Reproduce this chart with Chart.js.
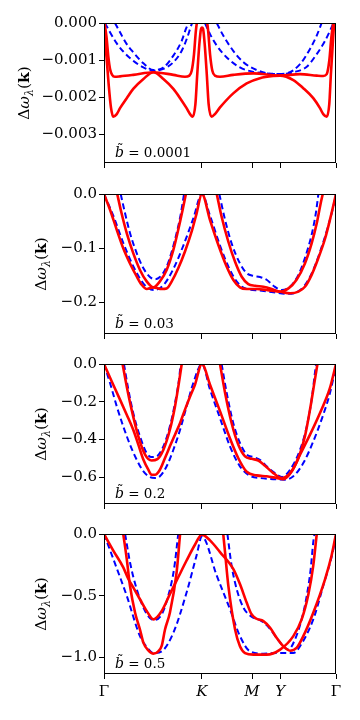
<!DOCTYPE html>
<html>
<head>
<meta charset="utf-8">
<script src="https://cdn.jsdelivr.net/npm/chart.js@4.4.0/dist/chart.umd.min.js"></script>
<style>
  body { margin: 0; background: #fff; width: 360px; height: 720px; position: relative; overflow: hidden; }
  canvas { position: absolute; left: 0; }
</style>
</head>
<body>
<canvas id="c1" width="360" height="180" style="top:0"></canvas>
<canvas id="c2" width="360" height="170" style="top:180px"></canvas>
<canvas id="c3" width="360" height="170" style="top:350px"></canvas>
<canvas id="c4" width="360" height="200" style="top:520px"></canvas>
<script>
// path Γ -> K -> M -> Y -> Γ, k as fraction of the path length
const kTicks = [0, 0.422, 0.638, 0.759, 1];
const kLabels = ['Γ', 'K', 'M', 'Y', 'Γ'];
const bLabels = ['0.0001', '0.03', '0.2', '0.5'];

const yTicks1 = [0, -0.001, -0.002, -0.003];
const yTicks2 = [0, -0.1, -0.2];
const yTicks3 = [0, -0.2, -0.4, -0.6];
const yTicks4 = [0, -0.5, -1.0];
const yMins = [-0.00378, -0.258, -0.743, -1.135];

// panel 1, b = 0.0001  ([k, Δω])
const p1Red1 = [[0, -0.0002], [0.011, -0.00093], [0.020, -0.00165], [0.030, -0.00228], [0.040, -0.00253],
  [0.055, -0.00246], [0.069, -0.00230], [0.098, -0.00203], [0.126, -0.00178], [0.170, -0.00151],
  [0.213, -0.00133], [0.256, -0.00151], [0.299, -0.00178], [0.328, -0.00203], [0.356, -0.00230],
  [0.371, -0.00246], [0.382, -0.00253], [0.394, -0.00219], [0.402, -0.00138], [0.411, -0.00057],
  [0.418, -0.00016], [0.422, -0.00012], [0.427, -0.00016], [0.434, -0.00057], [0.443, -0.00138],
  [0.451, -0.00219], [0.464, -0.00253], [0.478, -0.00246], [0.500, -0.00228], [0.557, -0.00190],
  [0.615, -0.00163], [0.672, -0.00149], [0.730, -0.00143], [0.759, -0.00142], [0.816, -0.00154],
  [0.859, -0.00176], [0.902, -0.00203], [0.931, -0.00230], [0.945, -0.00246], [0.960, -0.00253],
  [0.971, -0.00219], [0.978, -0.00138], [0.986, -0.00057], [0.991, -0.00012], [1, 0]];
const p1Red2 = [[0, 0.0001], [0.011, -0.00039], [0.019, -0.00093], [0.026, -0.00124], [0.035, -0.00140],
  [0.047, -0.00145], [0.069, -0.00144], [0.126, -0.00140], [0.213, -0.00133], [0.299, -0.00140],
  [0.349, -0.00145], [0.368, -0.00142], [0.378, -0.00129], [0.388, -0.00084], [0.396, -0.00021],
  [0.402, 0.00006], [0.422, 0.0003], [0.443, 0.00006], [0.449, -0.00021], [0.457, -0.00084],
  [0.467, -0.00129], [0.478, -0.00142], [0.500, -0.00145], [0.557, -0.00140], [0.644, -0.00136],
  [0.759, -0.00142], [0.845, -0.00138], [0.917, -0.00142], [0.945, -0.00143], [0.960, -0.00138],
  [0.971, -0.00102], [0.980, -0.00039], [0.989, 0.00002], [1, 0.0002]];
const p1Blue1 = [[0.004, 0], [0.026, -0.00025], [0.055, -0.00055], [0.083, -0.00077], [0.126, -0.00102],
  [0.170, -0.00120], [0.213, -0.00129], [0.256, -0.00124], [0.299, -0.00106], [0.335, -0.00075],
  [0.359, -0.00039], [0.378, -0.00003], [0.385, 0.00006], [0.42, null],
  [0.435, 0], [0.457, -0.00030], [0.486, -0.00061], [0.529, -0.00093], [0.586, -0.00120],
  [0.644, -0.00132], [0.701, -0.00136], [0.759, -0.00138], [0.816, -0.00133], [0.874, -0.00118],
  [0.917, -0.00084], [0.953, -0.00048], [0.974, -0.00021], [0.989, 0]];
const p1Blue2 = [[0.047, 0], [0.069, -0.00025], [0.098, -0.00057], [0.126, -0.00079], [0.170, -0.00109],
  [0.213, -0.00127], [0.256, -0.00120], [0.299, -0.00088], [0.335, -0.00048], [0.353, -0.00016],
  [0.364, 0], [0.42, null],
  [0.486, 0], [0.514, -0.00034], [0.557, -0.00075], [0.601, -0.00106], [0.658, -0.00127],
  [0.730, -0.00138], [0.787, -0.00136], [0.845, -0.00111], [0.888, -0.00070], [0.917, -0.00034],
  [0.938, 0]];

// panel 2, b = 0.03
const p2Red1 = [[0, 0], [0.026, -0.029], [0.055, -0.066], [0.083, -0.100], [0.112, -0.128], [0.141, -0.152],
  [0.162, -0.167], [0.184, -0.175], [0.213, -0.172], [0.249, -0.175], [0.270, -0.174], [0.292, -0.161],
  [0.320, -0.137], [0.349, -0.106], [0.378, -0.069], [0.399, -0.036], [0.422, 0],
  [0.457, -0.048], [0.493, -0.094], [0.529, -0.134], [0.557, -0.158], [0.586, -0.172], [0.615, -0.175],
  [0.658, -0.175], [0.701, -0.177], [0.759, -0.180], [0.802, -0.183], [0.838, -0.180], [0.866, -0.171],
  [0.895, -0.149], [0.924, -0.118], [0.953, -0.082], [0.977, -0.042], [1, 0]];
const p2Red2 = [[0.057, 0], [0.076, -0.036], [0.098, -0.072], [0.126, -0.109], [0.155, -0.140], [0.184, -0.161],
  [0.213, -0.172], [0.241, -0.161], [0.270, -0.140], [0.299, -0.103], [0.320, -0.066], [0.339, -0.029],
  [0.353, 0], [0.42, null],
  [0.486, 0], [0.507, -0.042], [0.536, -0.088], [0.565, -0.125], [0.593, -0.152], [0.622, -0.166],
  [0.651, -0.169], [0.687, -0.171], [0.723, -0.175], [0.759, -0.180], [0.795, -0.174], [0.830, -0.158],
  [0.866, -0.128], [0.895, -0.091], [0.917, -0.054], [0.934, -0.017], [0.943, 0]];
const p2Blue1 = [[0, 0], [0.040, -0.040], [0.083, -0.090], [0.126, -0.133], [0.170, -0.165], [0.213, -0.177],
  [0.256, -0.168], [0.299, -0.138], [0.342, -0.095], [0.385, -0.045], [0.422, 0],
  [0.457, -0.040], [0.500, -0.095], [0.543, -0.140], [0.579, -0.165], [0.615, -0.175], [0.672, -0.178],
  [0.730, -0.181], [0.787, -0.184], [0.830, -0.181], [0.866, -0.168], [0.902, -0.140], [0.938, -0.098],
  [0.967, -0.058], [0.989, -0.022], [1, 0]];
const p2Blue2 = [[0.072, 0], [0.091, -0.036], [0.112, -0.072], [0.141, -0.109], [0.170, -0.137], [0.198, -0.153],
  [0.220, -0.157], [0.241, -0.153], [0.270, -0.134], [0.292, -0.106], [0.313, -0.072], [0.330, -0.039],
  [0.345, 0], [0.42, null],
  [0.497, 0], [0.522, -0.048], [0.550, -0.091], [0.586, -0.128], [0.615, -0.146], [0.644, -0.151],
  [0.672, -0.153], [0.701, -0.158], [0.730, -0.169], [0.766, -0.177], [0.802, -0.171], [0.838, -0.149],
  [0.866, -0.118], [0.895, -0.075], [0.914, -0.033], [0.924, 0]];

// panel 3, b = 0.2
const p3Red1 = [[0, 0], [0.033, -0.092], [0.069, -0.189], [0.098, -0.269], [0.126, -0.349], [0.148, -0.428],
  [0.170, -0.508], [0.191, -0.561], [0.205, -0.588], [0.220, -0.588], [0.241, -0.561], [0.263, -0.499],
  [0.284, -0.437], [0.306, -0.375], [0.328, -0.313], [0.349, -0.242], [0.371, -0.172], [0.392, -0.110],
  [0.422, 0],
  [0.457, -0.110], [0.500, -0.250], [0.543, -0.395], [0.579, -0.500], [0.615, -0.572], [0.658, -0.591],
  [0.701, -0.596], [0.744, -0.605], [0.773, -0.611], [0.809, -0.570], [0.845, -0.481], [0.888, -0.375],
  [0.931, -0.260], [0.974, -0.127], [1, 0]];
const p3Red2 = [[0.080, 0], [0.098, -0.119], [0.119, -0.242], [0.148, -0.384], [0.177, -0.481], [0.205, -0.512],
  [0.230, -0.505], [0.256, -0.455], [0.284, -0.349], [0.306, -0.225], [0.325, -0.083], [0.335, 0],
  [0.42, null],
  [0.500, 0], [0.522, -0.154], [0.550, -0.313], [0.579, -0.428], [0.608, -0.490], [0.636, -0.503],
  [0.665, -0.512], [0.694, -0.540], [0.730, -0.579], [0.766, -0.605], [0.802, -0.579], [0.838, -0.499],
  [0.866, -0.384], [0.888, -0.242], [0.909, -0.083], [0.920, 0]];
const p3Blue1 = [[0, 0], [0.026, -0.101], [0.055, -0.225], [0.083, -0.331], [0.112, -0.428], [0.141, -0.508],
  [0.170, -0.570], [0.198, -0.600], [0.220, -0.605], [0.241, -0.596], [0.270, -0.543], [0.299, -0.455],
  [0.328, -0.349], [0.356, -0.225], [0.385, -0.101], [0.422, 0],
  [0.457, -0.136], [0.500, -0.287], [0.543, -0.437], [0.586, -0.543], [0.629, -0.593], [0.672, -0.605],
  [0.730, -0.611], [0.780, -0.614], [0.816, -0.596], [0.859, -0.526], [0.902, -0.411], [0.945, -0.269],
  [0.974, -0.154], [1, -0.01]];
const p3Blue2 = [[0.086, 0], [0.105, -0.136], [0.126, -0.260], [0.155, -0.384], [0.184, -0.473], [0.205, -0.494],
  [0.227, -0.490], [0.256, -0.437], [0.284, -0.331], [0.306, -0.207], [0.325, -0.065], [0.330, 0],
  [0.42, null],
  [0.507, 0], [0.529, -0.154], [0.557, -0.313], [0.586, -0.419], [0.615, -0.481], [0.644, -0.494],
  [0.672, -0.508], [0.701, -0.543], [0.737, -0.579], [0.766, -0.600], [0.802, -0.561], [0.845, -0.455],
  [0.874, -0.331], [0.895, -0.189], [0.909, -0.048], [0.914, 0]];

// panel 4, b = 0.5
const p4Red1 = [[0, 0], [0.040, -0.134], [0.083, -0.270], [0.105, -0.365], [0.126, -0.433], [0.155, -0.529],
  [0.184, -0.624], [0.213, -0.692], [0.249, -0.624], [0.284, -0.488], [0.320, -0.351], [0.356, -0.215],
  [0.392, -0.087], [0.422, -0.005],
  [0.457, -0.052], [0.500, -0.147], [0.557, -0.283], [0.586, -0.406], [0.615, -0.556], [0.636, -0.651],
  [0.658, -0.687], [0.687, -0.706], [0.716, -0.760], [0.744, -0.842], [0.773, -0.910], [0.802, -0.946],
  [0.830, -0.924], [0.859, -0.828], [0.902, -0.638], [0.953, -0.365], [0.981, -0.174], [1, 0]];
const p4Red2 = [[0.083, 0], [0.098, -0.202], [0.112, -0.420], [0.134, -0.638], [0.155, -0.774], [0.170, -0.883],
  [0.191, -0.943], [0.213, -0.970], [0.234, -0.951], [0.249, -0.905], [0.263, -0.774], [0.284, -0.638],
  [0.313, -0.311], [0.328, 0], [0.42, null],
  [0.514, 0], [0.523, -0.174], [0.536, -0.420], [0.565, -0.774], [0.586, -0.910], [0.608, -0.965],
  [0.644, -0.978], [0.701, -0.978], [0.759, -0.937], [0.816, -0.828], [0.852, -0.692], [0.881, -0.488],
  [0.902, -0.256], [0.917, 0]];
const p4Blue1 = [[0, 0], [0.040, -0.202], [0.098, -0.501], [0.155, -0.828], [0.184, -0.916], [0.213, -0.965],
  [0.249, -0.951], [0.299, -0.801], [0.356, -0.474], [0.399, -0.174], [0.422, -0.02],
  [0.486, -0.338], [0.543, -0.610], [0.586, -0.828], [0.629, -0.951], [0.687, -0.970], [0.744, -0.965],
  [0.816, -0.965], [0.845, -0.910], [0.902, -0.692], [0.945, -0.420], [0.989, -0.120], [1, 0]];
const p4Blue2 = [[0.091, 0], [0.112, -0.229], [0.141, -0.447], [0.177, -0.624], [0.213, -0.698], [0.249, -0.651],
  [0.277, -0.501], [0.302, -0.283], [0.320, 0], [0.42, null],
  [0.532, 0], [0.550, -0.256], [0.572, -0.447], [0.601, -0.597], [0.636, -0.670], [0.672, -0.698],
  [0.708, -0.752], [0.744, -0.842], [0.773, -0.910], [0.795, -0.937], [0.823, -0.856], [0.852, -0.692],
  [0.874, -0.501], [0.891, -0.283], [0.902, -0.065], [0.907, 0]];

const SERIF = '"DejaVu Serif", serif';

function toPoints(arr) {
  return arr.map(p => ({ x: p[0], y: p[1] }));
}

function redSet(arr) {
  return { data: toPoints(arr), borderColor: '#ff0000', borderWidth: 2.6, pointRadius: 0 };
}

function blueSet(arr) {
  return { data: toPoints(arr), borderColor: '#0000ff', borderWidth: 2, borderDash: [6, 3.5], pointRadius: 0 };
}

function fmtTick(v, dec) {
  const s = Math.abs(v).toFixed(dec);
  return v < 0 ? '\u2212' + s : s;
}

// frame, y-axis title and the b~ note
const panelText = {
  id: 'panelText',
  afterDatasetsDraw(chart, args, opts) {
    const { ctx, chartArea: a } = chart;
    ctx.save();
    ctx.strokeStyle = '#000';
    ctx.lineWidth = 1;
    ctx.strokeRect(a.left + 0.5, a.top + 0.5, a.right - a.left - 1, a.bottom - a.top - 1);

    // b~ = value
    ctx.fillStyle = '#000';
    ctx.textBaseline = 'alphabetic';
    const bx = a.left + 11, by = a.bottom - 6;
    ctx.font = 'italic 14px ' + SERIF;
    ctx.fillText('b', bx, by);
    const bw = ctx.measureText('b').width;
    ctx.font = '13px ' + SERIF;
    ctx.fillText('\u02dc', bx + 2, by - 4);
    ctx.font = '13.5px ' + SERIF;
    ctx.fillText(' = ' + opts.b, bx + bw, by);

    // y title, rotated
    const parts = [
      { t: 'Δ', f: '15.5px ' + SERIF, dy: 0 },
      { t: 'ω', f: 'italic 15.5px ' + SERIF, dy: 0 },
      { t: 'λ', f: 'italic 11px ' + SERIF, dy: 3.5 },
      { t: '(', f: '15.5px ' + SERIF, dy: 0 },
      { t: 'k', f: 'bold 15.5px ' + SERIF, dy: 0 },
      { t: ')', f: '15.5px ' + SERIF, dy: 0 }
    ];
    let total = 0;
    parts.forEach(p => { ctx.font = p.f; p.w = ctx.measureText(p.t).width; total += p.w; });
    ctx.translate(opts.titleX, (a.top + a.bottom) / 2);
    ctx.rotate(-Math.PI / 2);
    let x = -total / 2;
    parts.forEach(p => {
      ctx.font = p.f;
      ctx.fillText(p.t, x, p.dy);
      x += p.w;
    });
    ctx.restore();
  }
};

function makePanel(id, cfg) {
  new Chart(document.getElementById(id), {
    type: 'line',
    data: {
      datasets: [
        ...cfg.reds.map(redSet),
        ...cfg.blues.map(blueSet)
      ]
    },
    plugins: [panelText],
    options: {
      responsive: false,
      animation: false,
      events: [],
      layout: { padding: { top: cfg.padTop, right: 24, bottom: 0, left: 0 } },
      elements: { line: { cubicInterpolationMode: 'monotone', borderCapStyle: 'butt', borderJoinStyle: 'round' } },
      plugins: {
        legend: { display: false },
        tooltip: { enabled: false },
        panelText: { b: cfg.b, titleX: cfg.titleX }
      },
      scales: {
        x: {
          type: 'linear',
          min: 0,
          max: 1,
          afterBuildTicks: axis => { axis.ticks = kTicks.map(v => ({ value: v })); },
          afterFit: axis => { axis.height = cfg.xHeight; },
          border: { display: false },
          grid: { display: true, drawOnChartArea: false, drawTicks: true, tickLength: 5, color: '#000', lineWidth: 1 },
          ticks: {
            display: cfg.showX,
            autoSkip: false,
            maxRotation: 0,
            padding: 4,
            color: '#000',
            font: ctx => ({ family: SERIF, size: 15, style: (ctx.index % 4 === 0) ? 'normal' : 'italic' }),
            callback: (v, i) => kLabels[i]
          }
        },
        y: {
          min: cfg.yMin,
          max: 0,
          afterBuildTicks: axis => { axis.ticks = cfg.yTicks.map(v => ({ value: v })); },
          afterFit: axis => { axis.width = 104; },
          border: { display: false },
          grid: { display: true, drawOnChartArea: false, drawTicks: true, tickLength: 5, color: '#000', lineWidth: 1 },
          ticks: {
            padding: 2,
            color: '#000',
            font: { family: SERIF, size: 15 },
            callback: v => fmtTick(v, cfg.dec)
          }
        }
      }
    }
  });
}

makePanel('c1', { reds: [p1Red1, p1Red2], blues: [p1Blue1, p1Blue2], yMin: yMins[0], yTicks: yTicks1, dec: 3,
  padTop: 23, xHeight: 17, showX: false, b: bLabels[0], titleX: 29 });
makePanel('c2', { reds: [p2Red1, p2Red2], blues: [p2Blue1, p2Blue2], yMin: yMins[1], yTicks: yTicks2, dec: 1,
  padTop: 14, xHeight: 16, showX: false, b: bLabels[1], titleX: 46 });
makePanel('c3', { reds: [p3Red1, p3Red2], blues: [p3Blue1, p3Blue2], yMin: yMins[2], yTicks: yTicks3, dec: 1,
  padTop: 14, xHeight: 16, showX: false, b: bLabels[2], titleX: 46 });
makePanel('c4', { reds: [p4Red1, p4Red2], blues: [p4Blue1, p4Blue2], yMin: yMins[3], yTicks: yTicks4, dec: 1,
  padTop: 14, xHeight: 46, showX: true, b: bLabels[3], titleX: 46 });
</script>
</body>
</html>
